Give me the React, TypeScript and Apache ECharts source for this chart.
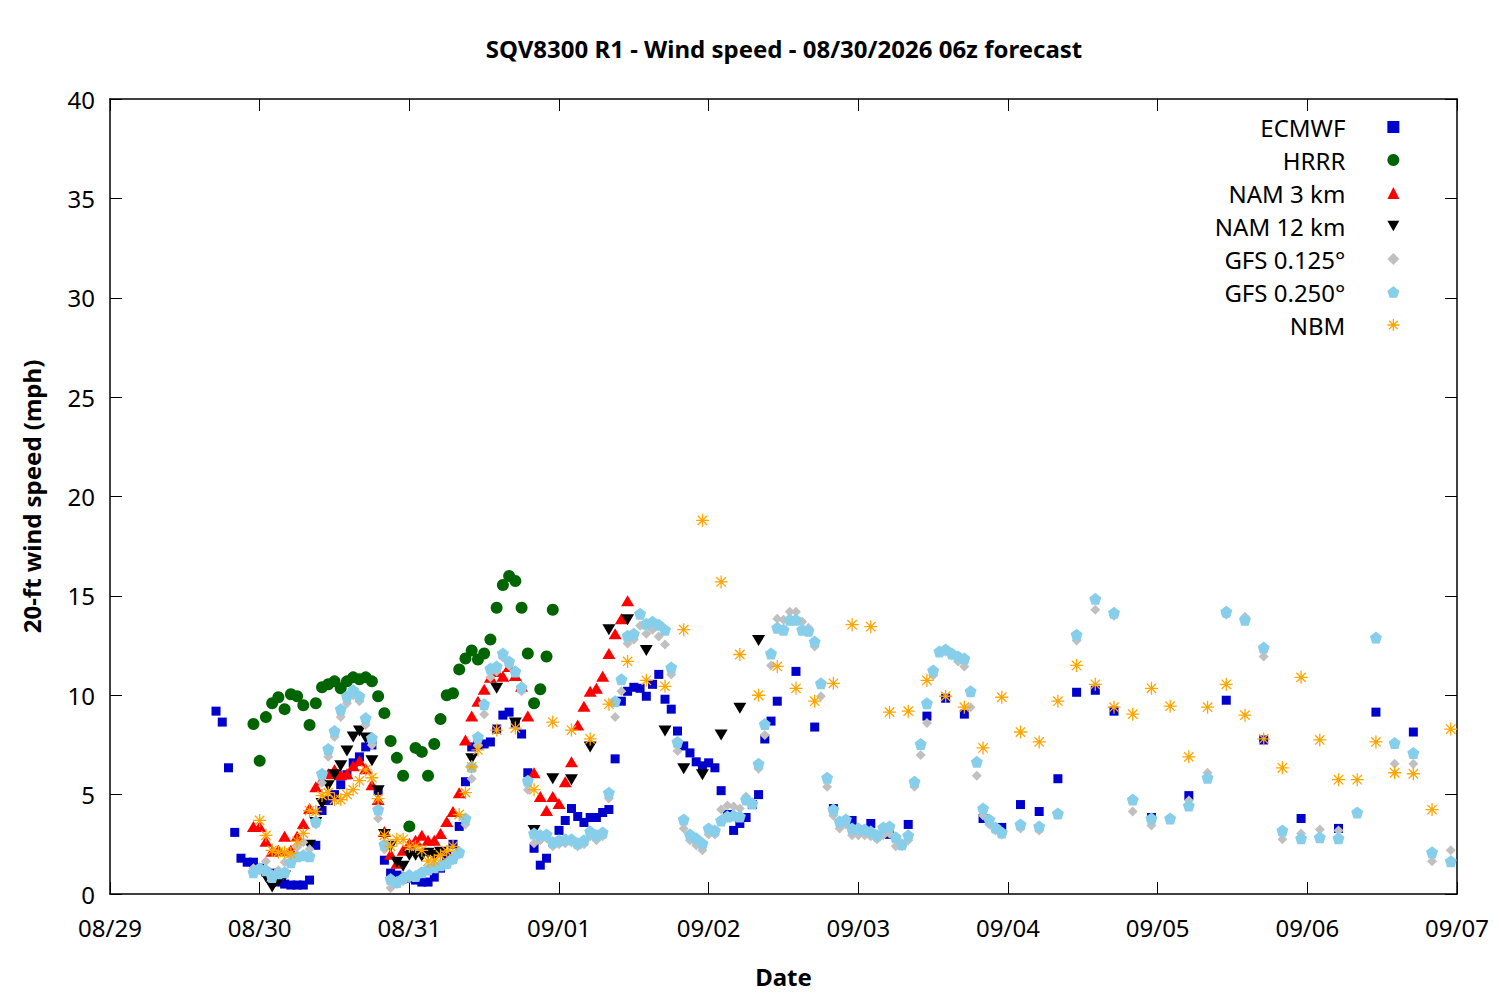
import React, { useEffect, useRef } from "react";
import * as echarts from "echarts";

// hours since 08/29 00:00 local, wind speed in mph
const DAY_LABELS = ["08/29", "08/30", "08/31", "09/01", "09/02", "09/03", "09/04", "09/05", "09/06", "09/07"];

const ECMWF: [number, number][] = [
	[17, 9.2], [18, 8.65], [19, 6.35], [20, 3.1], [21, 1.8], [22, 1.6], [23, 1.6], [24, 1.3], [25, 1.1],
	[26, 1.05], [27, 0.6], [28, 0.5], [29, 0.45], [30, 0.45], [31, 0.45], [32, 0.7], [33, 2.45], [34, 4.2],
	[35, 4.7], [36, 5.0], [37, 5.5], [38, 6.0], [39, 6.6], [40, 6.9], [41, 7.4], [42, 7.5], [43, 5.2],
	[44, 1.7], [45, 1.05], [46, 0.95], [47, 0.85], [48, 0.8], [49, 0.7], [50, 0.6], [51, 0.6], [52, 0.85],
	[53, 1.3], [54, 1.9], [55, 2.5], [56, 3.4], [57, 5.65], [58, 7.4], [59, 7.5], [60, 7.55], [61, 7.65],
	[62, 8.3], [63, 9.0], [64, 9.15], [65, 8.6], [66, 8.05], [67, 6.1], [68, 2.3], [69, 1.45], [70, 1.8],
	[71, 2.6], [72, 3.2], [73, 3.7], [74, 4.3], [75, 3.9], [76, 3.6], [77, 3.85], [78, 3.85], [79, 4.1],
	[80, 4.25], [81, 6.8], [82, 9.7], [83, 10.2], [84, 10.4], [85, 10.35], [86, 9.95], [87, 10.55], [88, 11.05],
	[89, 9.8], [90, 9.3], [91, 8.2], [92, 7.45], [93, 7.1], [94, 6.65], [95, 6.45], [96, 6.6], [97, 6.35],
	[98, 5.2], [99, 4.0], [100, 3.2], [101, 3.55], [102, 3.85], [103, 4.5], [104, 5.0], [105, 7.8], [106, 8.7],
	[107, 9.7], [110, 11.2], [113, 8.4], [116, 4.3], [119, 3.7], [122, 3.55], [125, 3.0], [128, 3.5],
	[131, 8.95], [134, 9.85], [137, 9.05], [140, 3.8], [143, 3.35], [146, 4.5], [149, 4.15], [152, 5.8],
	[155, 10.15], [158, 10.25], [161, 9.2], [167, 3.85], [173, 4.95], [179, 9.75], [185, 7.75], [191, 3.8],
	[197, 3.3], [203, 9.15], [209, 8.15],
];

const HRRR: [number, number][] = [
	[23, 8.55], [24, 6.7], [25, 8.9], [26, 9.6], [27, 9.9], [28, 9.3], [29, 10.05], [30, 9.95], [31, 9.5],
	[32, 8.5], [33, 9.6], [34, 10.4], [35, 10.55], [36, 10.7], [37, 10.35], [38, 10.7], [39, 10.9], [40, 10.8],
	[41, 10.9], [42, 10.7], [43, 9.95], [44, 9.1], [45, 7.7], [46, 6.85], [47, 5.95], [48, 3.4], [49, 7.35],
	[50, 7.15], [51, 5.95], [52, 7.55], [53, 8.8], [54, 10.0], [55, 10.1], [56, 11.3], [57, 11.85], [58, 12.25],
	[59, 11.8], [60, 12.1], [61, 12.8], [62, 14.4], [63, 15.55], [64, 16.0], [65, 15.75], [66, 14.4], [67, 12.1],
	[68, 9.6], [69, 10.3], [70, 11.95], [71, 14.3],
];

const NAM3: [number, number][] = [
	[23, 3.4], [24, 3.4], [25, 2.65], [26, 2.15], [27, 2.2], [28, 2.9], [29, 2.2], [30, 2.9], [31, 3.55],
	[32, 4.3], [33, 5.4], [34, 5.75], [35, 6.05], [36, 6.25], [37, 6.0], [38, 6.05], [39, 6.45], [40, 6.7],
	[41, 6.3], [42, 5.5], [43, 4.75], [44, 3.15], [45, 2.0], [46, 1.55], [47, 2.2], [48, 2.55], [49, 2.7],
	[50, 2.95], [51, 2.7], [52, 2.7], [53, 3.05], [54, 3.65], [55, 4.15], [56, 5.1], [57, 7.75], [58, 8.95],
	[59, 9.7], [60, 10.3], [61, 10.9], [62, 11.2], [63, 10.95], [64, 11.45], [65, 11.0], [66, 10.45], [67, 8.95],
	[68, 6.1], [69, 4.9], [70, 4.2], [71, 4.9], [72, 4.55], [73, 5.65], [74, 6.65], [75, 8.5], [76, 9.45],
	[77, 10.2], [78, 10.35], [79, 10.95], [80, 12.1], [81, 13.1], [82, 13.85], [83, 14.75],
];

const NAM12: [number, number][] = [
	[25, 0.85], [26, 0.35], [27, 0.65], [28, 0.9], [32, 2.45], [33, 3.6], [34, 4.55], [35, 5.45], [36, 6.0],
	[37, 6.45], [38, 7.2], [39, 7.9], [40, 8.2], [41, 7.85], [42, 6.7], [43, 5.2], [44, 3.0], [45, 2.4],
	[46, 1.6], [47, 1.4], [48, 1.95], [49, 1.95], [50, 1.9], [51, 2.05], [52, 1.95], [53, 2.1], [58, 6.8],
	[62, 10.35], [65, 8.6], [68, 3.2], [71, 5.8], [74, 5.75], [77, 7.4], [80, 13.3], [83, 13.8], [86, 12.25],
	[89, 8.2], [92, 6.3], [95, 6.0], [98, 8.0], [101, 9.35], [104, 12.75],
];

const GFS125: [number, number][] = [
	[23, 1.3], [24, 1.2], [25, 1.65], [26, 1.0], [27, 1.2], [28, 1.6], [29, 1.9], [30, 2.35], [31, 2.6],
	[32, 2.25], [33, 3.5], [34, 5.6], [35, 6.9], [36, 7.9], [37, 8.9], [38, 9.6], [39, 10.0], [40, 9.7],
	[41, 8.5], [42, 7.5], [43, 3.8], [44, 2.25], [45, 0.3], [46, 0.5], [47, 0.65], [48, 0.8], [49, 0.85],
	[50, 1.05], [51, 1.15], [52, 1.3], [53, 1.4], [54, 1.5], [55, 1.7], [56, 2.0], [57, 3.5], [58, 5.8],
	[59, 7.5], [60, 9.05], [61, 10.9], [62, 11.2], [63, 11.9], [64, 11.5], [65, 11.25], [66, 10.2], [67, 5.25],
	[68, 2.55], [69, 2.7], [70, 2.8], [71, 2.4], [72, 2.5], [73, 2.55], [74, 2.6], [75, 2.4], [76, 2.5],
	[77, 2.9], [78, 2.7], [79, 2.9], [80, 4.8], [81, 8.9], [82, 10.2], [83, 12.6], [84, 12.8], [85, 13.5],
	[86, 13.1], [87, 13.3], [88, 12.95], [89, 12.55], [90, 11.05], [91, 7.2], [92, 3.3], [93, 2.7], [94, 2.45],
	[95, 2.2], [96, 3.0], [97, 3.0], [98, 4.25], [99, 4.45], [100, 4.4], [101, 4.3], [102, 4.9], [103, 4.6],
	[104, 6.3], [105, 8.0], [106, 11.5], [107, 13.85], [108, 13.8], [109, 14.2], [110, 14.2], [111, 13.7],
	[112, 13.4], [113, 12.45], [114, 9.95], [115, 5.4], [116, 3.95], [117, 3.3], [118, 3.5], [119, 2.95],
	[120, 2.95], [121, 2.95], [122, 2.9], [123, 2.75], [124, 2.95], [125, 3.05], [126, 2.4], [127, 2.4],
	[128, 2.7], [129, 5.4], [130, 7.0], [131, 8.6], [132, 11.0], [133, 12.2], [134, 12.2], [135, 12.0],
	[136, 11.7], [137, 11.45], [138, 9.4], [139, 5.95], [140, 3.95], [141, 3.5], [142, 3.2], [143, 3.0],
	[146, 3.3], [149, 3.2], [152, 4.0], [155, 12.75], [158, 14.3], [161, 14.0], [164, 4.15], [167, 3.45],
	[170, 3.8], [173, 4.7], [176, 6.1], [179, 14.05], [182, 13.95], [185, 11.95], [188, 2.75], [191, 3.05],
	[194, 3.25], [197, 3.2], [200, 4.1], [203, 12.85], [206, 6.55], [209, 6.55], [212, 1.65], [215, 2.2],
];

const GFS250: [number, number][] = [
	[23, 1.1], [24, 1.3], [25, 1.2], [26, 0.85], [27, 1.05], [28, 1.1], [29, 1.6], [30, 1.9], [31, 1.95],
	[32, 1.9], [33, 3.65], [34, 6.05], [35, 7.3], [36, 8.2], [37, 9.3], [38, 9.95], [39, 10.25], [40, 9.95],
	[41, 8.85], [42, 7.85], [43, 4.25], [44, 2.5], [45, 0.75], [46, 0.6], [47, 0.8], [48, 0.95], [49, 0.9],
	[50, 1.1], [51, 1.25], [52, 1.35], [53, 1.45], [54, 1.55], [55, 1.8], [56, 2.1], [57, 3.8], [58, 6.4],
	[59, 7.9], [60, 9.55], [61, 11.35], [62, 11.45], [63, 12.1], [64, 11.7], [65, 11.2], [66, 10.4], [67, 5.7],
	[68, 3.05], [69, 2.95], [70, 3.0], [71, 2.6], [72, 2.7], [73, 2.75], [74, 2.75], [75, 2.55], [76, 2.7],
	[77, 3.15], [78, 2.95], [79, 3.1], [80, 5.1], [81, 9.7], [82, 10.8], [83, 13.0], [84, 13.1], [85, 14.1],
	[86, 13.6], [87, 13.7], [88, 13.55], [89, 13.3], [90, 11.4], [91, 7.65], [92, 3.75], [93, 3.0], [94, 2.8],
	[95, 2.55], [96, 3.3], [97, 3.2], [98, 3.7], [99, 3.9], [100, 3.95], [101, 3.9], [102, 4.75], [103, 4.55],
	[104, 6.55], [105, 8.55], [106, 12.1], [107, 13.4], [108, 13.3], [109, 13.8], [110, 13.8], [111, 13.3],
	[112, 13.25], [113, 12.7], [114, 10.6], [115, 5.85], [116, 4.25], [117, 3.65], [118, 3.75], [119, 3.3],
	[120, 3.3], [121, 3.25], [122, 3.15], [123, 2.95], [124, 3.35], [125, 3.4], [126, 2.85], [127, 2.5],
	[128, 2.95], [129, 5.65], [130, 7.55], [131, 9.6], [132, 11.25], [133, 12.2], [134, 12.3], [135, 12.1],
	[136, 11.95], [137, 11.85], [138, 10.2], [139, 6.65], [140, 4.3], [141, 3.75], [142, 3.35], [143, 3.1],
	[146, 3.5], [149, 3.4], [152, 4.05], [155, 13.05], [158, 14.85], [161, 14.15], [164, 4.75], [167, 3.8],
	[170, 3.8], [173, 4.45], [176, 5.85], [179, 14.2], [182, 13.8], [185, 12.4], [188, 3.2], [191, 2.8],
	[194, 2.85], [197, 2.8], [200, 4.1], [203, 12.9], [206, 7.6], [209, 7.1], [212, 2.1], [215, 1.65],
];

const NBM: [number, number][] = [
	[24, 3.7], [25, 2.95], [26, 2.2], [27, 2.1], [28, 2.1], [29, 2.05], [30, 2.65], [31, 3.05], [32, 4.2],
	[33, 4.15], [34, 4.95], [35, 5.1], [36, 4.75], [37, 4.75], [38, 5.0], [39, 5.25], [40, 5.7], [41, 6.25],
	[42, 5.85], [43, 4.8], [44, 2.95], [45, 2.4], [46, 2.75], [47, 2.75], [48, 2.4], [49, 2.4], [50, 2.2],
	[51, 1.65], [52, 1.7], [53, 1.95], [54, 2.15], [55, 2.4], [56, 4.0], [57, 5.1], [58, 6.4], [59, 7.25],
	[62, 8.25], [65, 8.35], [68, 5.25], [71, 8.65], [74, 8.25], [77, 7.8], [80, 9.55], [83, 11.7], [86, 10.75],
	[89, 10.45], [92, 13.3], [95, 18.8], [98, 15.7], [101, 12.05], [104, 10.0], [107, 11.45], [110, 10.35],
	[113, 9.7], [116, 10.6], [119, 13.55], [122, 13.45], [125, 9.15], [128, 9.2], [131, 10.75], [134, 9.95],
	[137, 9.4], [140, 7.35], [143, 9.9], [146, 8.15], [149, 7.65], [152, 9.7], [155, 11.5], [158, 10.55],
	[161, 9.4], [164, 9.05], [167, 10.35], [170, 9.45], [173, 6.9], [176, 9.4], [179, 10.55], [182, 9.0],
	[185, 7.8], [188, 6.35], [191, 10.9], [194, 7.75], [197, 5.75], [200, 5.75], [203, 7.65], [206, 6.1],
	[209, 6.05], [212, 4.25], [215, 8.3],
];

const FONT = "Noto Sans";
const PENTAGON = "path://M0,-1 L0.951,-0.309 L0.588,0.809 L-0.588,0.809 L-0.951,-0.309 Z";
const ASTERISK = "path://M-1,0 L1,0 M0,-1 L0,1 M-0.72,-0.72 L0.72,0.72 M-0.72,0.72 L0.72,-0.72";
const DOWN_TRIANGLE = "path://M0,0 L2,0 L1,1.75 Z";

export default function App() {
	const chartRef = useRef<HTMLDivElement>(null);

	useEffect(() => {
		if (!chartRef.current) return;
		document.body.style.margin = "0";
		const chart = echarts.init(chartRef.current, null, { renderer: "svg" });

		const axisCommon = {
			type: "value" as const,
			axisLine: { show: true, onZero: false, lineStyle: { color: "#000", width: 1.5 } },
			axisTick: { show: true, inside: true, length: 12, lineStyle: { color: "#000", width: 1 } },
			splitLine: { show: false },
		};
		const labelStyle = { color: "#000", fontFamily: FONT, fontSize: 24 };
		const nameStyle = { color: "#000", fontFamily: FONT, fontSize: 24, fontWeight: "bold" as const };

		const series = [
			{ name: "ECMWF", data: ECMWF, symbol: "rect", symbolSize: 9, color: "#0000cd" },
			{ name: "HRRR", data: HRRR, symbol: "circle", symbolSize: 12, color: "#006400" },
			{ name: "NAM 3 km", data: NAM3, symbol: "triangle", symbolSize: [13, 11], color: "#ff0000" },
			{ name: "NAM 12 km", data: NAM12, symbol: DOWN_TRIANGLE, symbolSize: [13, 11], color: "#000000" },
			{ name: "GFS 0.125°", data: GFS125, symbol: "diamond", symbolSize: 10, color: "#c0c0c0" },
			{ name: "GFS 0.250°", data: GFS250, symbol: PENTAGON, symbolSize: 12, color: "#87ceeb" },
		].map((s) => ({
			type: "scatter" as const,
			name: s.name,
			data: s.data,
			symbol: s.symbol,
			symbolSize: s.symbolSize,
			itemStyle: { color: s.color, opacity: 1 },
		}));

		chart.setOption({
			animation: false,
			title: {
				text: "SQV8300 R1 - Wind speed - 08/30/2026 06z forecast",
				left: 784,
				top: 36,
				textAlign: "center",
				padding: 0,
				textStyle: { ...nameStyle },
			},
			legend: {
				orient: "vertical",
				align: "right",
				right: 100,
				top: 115,
				padding: 0,
				itemWidth: 12,
				itemHeight: 12,
				itemGap: 9,
				selectedMode: false,
				textStyle: { ...labelStyle, lineHeight: 12, padding: [0, 37, 0, 0] },
				data: [
					{ name: "ECMWF" },
					{ name: "HRRR" },
					{ name: "NAM 3 km" },
					{ name: "NAM 12 km", icon: DOWN_TRIANGLE },
					{ name: "GFS 0.125°" },
					{ name: "GFS 0.250°", icon: PENTAGON },
					{
						name: "NBM",
						icon: ASTERISK,
						itemStyle: { color: "transparent", borderColor: "#ffa500", borderWidth: 1.3 },
					},
				],
			},
			grid: { left: 110, right: 43, top: 99, bottom: 106 },
			xAxis: [
				{
					...axisCommon,
					position: "bottom",
					min: 0,
					max: 216,
					interval: 24,
					name: "Date",
					nameLocation: "middle",
					nameGap: 70,
					nameTextStyle: nameStyle,
					axisLabel: {
						...labelStyle,
						margin: 21,
						formatter: (v: number) => DAY_LABELS[Math.round(v / 24)] ?? "",
					},
				},
				{
					...axisCommon,
					position: "top",
					min: 0,
					max: 216,
					interval: 24,
					axisLabel: { show: false },
				},
			],
			yAxis: [
				{
					...axisCommon,
					position: "left",
					min: 0,
					max: 40,
					interval: 5,
					name: "20-ft wind speed (mph)",
					nameLocation: "middle",
					nameGap: 67,
					nameTextStyle: nameStyle,
					axisLabel: { ...labelStyle, margin: 15 },
				},
				{
					...axisCommon,
					position: "right",
					min: 0,
					max: 40,
					interval: 5,
					axisLabel: { show: false },
				},
			],
			series: [
				...series,
				{
					type: "scatter",
					name: "NBM",
					data: NBM,
					symbol: ASTERISK,
					symbolSize: 13,
					itemStyle: { color: "transparent", borderColor: "#ffa500", borderWidth: 1.3, opacity: 1 },
				},
			],
		});

		const onResize = () => chart.resize();
		window.addEventListener("resize", onResize);
		return () => {
			window.removeEventListener("resize", onResize);
			chart.dispose();
		};
	}, []);

	return <div ref={chartRef} style={{ width: 1500, height: 1000 }} />;
}
